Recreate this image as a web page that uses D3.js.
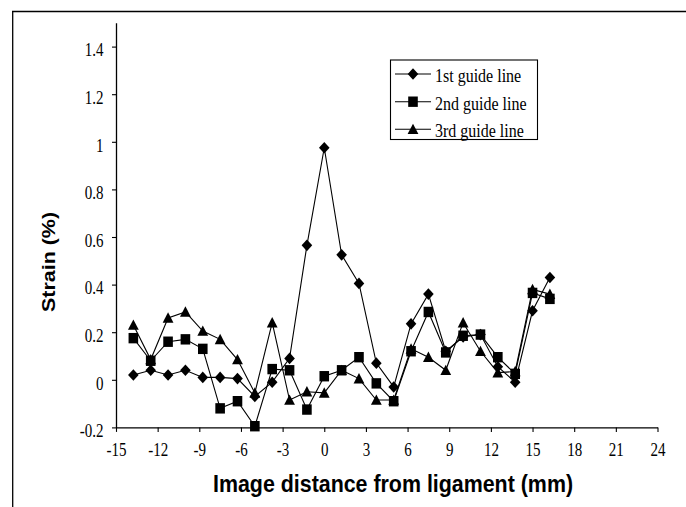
<!DOCTYPE html>
<html>
<head>
<meta charset="utf-8">
<script src="https://cdn.jsdelivr.net/npm/d3@7"></script>
<style>
  html, body { margin: 0; padding: 0; background: #fff; }
  svg { display: block; }
</style>
</head>
<body>
<div id="chart"></div>
<script>
// Strain measured along three guide lines vs. distance from the ligament
const distances = [-13.75, -12.5, -11.25, -10, -8.75, -7.5, -6.25, -5, -3.75, -2.5, -1.25, 0,
                   1.25, 2.5, 3.75, 5, 6.25, 7.5, 8.75, 10, 11.25, 12.5, 13.75, 15, 16.25];
const guide1 = [0.02, 0.04, 0.02, 0.04, 0.01, 0.01, 0.005, -0.07, -0.01, 0.09, 0.565, 0.975,
                0.525, 0.405, 0.07, -0.03, 0.235, 0.36, 0.12, 0.18, 0.19, 0.055, -0.01, 0.29, 0.43];
const guide2 = [0.175, 0.08, 0.16, 0.17, 0.13, -0.12, -0.09, -0.195, 0.045, 0.04, -0.125, 0.015,
                0.04, 0.095, -0.015, -0.09, 0.12, 0.285, 0.115, 0.185, 0.19, 0.095, 0.025, 0.365, 0.34];
const guide3 = [0.23, 0.085, 0.26, 0.285, 0.205, 0.17, 0.085, -0.055, 0.24, -0.085, -0.05, -0.055,
                0.04, 0.005, -0.085, -0.085, 0.13, 0.095, 0.04, 0.24, 0.12, 0.03, 0.035, 0.38, 0.36];
const seriesNames = ["1st guide line", "2nd guide line", "3rd guide line"];
const seriesSymbols = ["diamond", "square", "triangle"];
const xTicks = [-15, -12, -9, -6, -3, 0, 3, 6, 9, 12, 15, 18, 21, 24];
const yTicks = [-0.2, 0, 0.2, 0.4, 0.6, 0.8, 1, 1.2, 1.4];
const xTitle = "Image distance from ligament (mm)";
const yTitle = "Strain (%)";

const W = 686, H = 507;
const margin = { top: 22.8, right: 28.5, bottom: 79.6, left: 116 };
const serif = "'Liberation Serif', 'Times New Roman', serif";
const sans = "'Liberation Sans', Arial, sans-serif";

const svg = d3.select("#chart").append("svg")
  .attr("width", W).attr("height", H);

// scanned page frame (top and left edges)
svg.append("line").attr("x1", 12).attr("x2", W).attr("y1", 11.5).attr("y2", 11.5)
  .attr("stroke", "#000").attr("stroke-width", 1.3);
svg.append("line").attr("x1", 12.7).attr("x2", 12.7).attr("y1", 11).attr("y2", H)
  .attr("stroke", "#000").attr("stroke-width", 1.3);

const x = d3.scaleLinear().domain([-15, 24]).range([margin.left, W - margin.right]);
const y = d3.scaleLinear().domain([-0.2, 1.5]).range([H - margin.bottom, margin.top]);

// axes
const xAxis = svg.append("g")
  .attr("transform", `translate(0,${y(-0.2)})`)
  .call(d3.axisBottom(x).tickValues(xTicks).tickSize(4.5).tickSizeOuter(0).tickFormat(d3.format("d")));
const yAxis = svg.append("g")
  .attr("transform", `translate(${x(-15)},0)`)
  .call(d3.axisLeft(y).tickValues(yTicks).tickSize(4).tickSizeOuter(0).tickFormat(d => d3.format("")(+d.toFixed(1))));

[xAxis, yAxis].forEach(g => {
  g.select(".domain").attr("stroke", "#000").attr("stroke-width", 1.3);
  g.selectAll(".tick line").attr("stroke", "#000").attr("stroke-width", 1.1);
});

// tick labels: serif, slightly tall
xAxis.selectAll(".tick text")
  .attr("x", null).attr("y", null).attr("dy", null)
  .attr("transform", "translate(0,29) scale(1,1.28)")
  .attr("fill", "#000")
  .style("font-family", serif).style("font-size", "15px")
  .attr("text-anchor", "middle")
  .text(d => d < 0 ? "-" + Math.abs(d) : d);
yAxis.selectAll(".tick text")
  .attr("x", null).attr("y", null).attr("dy", null)
  .attr("transform", "translate(-12.5,9.3) scale(1,1.28)")
  .attr("fill", "#000")
  .style("font-family", serif).style("font-size", "15px")
  .attr("text-anchor", "end")
  .text(d => { const v = +d.toFixed(1); return v < 0 ? "-" + Math.abs(v) : String(v); });

// axis titles
svg.append("text")
  .attr("transform", "translate(393,492) scale(1,1.16)")
  .attr("text-anchor", "middle")
  .style("font-family", sans).style("font-weight", "bold").style("font-size", "21.4px")
  .text(xTitle);
svg.append("text")
  .attr("transform", "translate(54.5,262) rotate(-90) scale(1.16,1)")
  .attr("text-anchor", "middle")
  .style("font-family", sans).style("font-weight", "bold").style("font-size", "18.5px")
  .text(yTitle);

// marker shapes
function markerPath(kind) {
  if (kind === "diamond") return "M0,-5.8L5.3,0L0,5.8L-5.3,0Z";
  if (kind === "square") return "M-4.8,-5.2H4.8V5.2H-4.8Z";
  return "M0,-5.6L5.4,4.8H-5.4Z";
}

const series = [guide1, guide2, guide3];
const line = d3.line().x((d, i) => x(distances[i])).y(d => y(d));

const plot = svg.append("g");
series.forEach((vals, k) => {
  plot.append("path")
    .attr("d", line(vals))
    .attr("fill", "none").attr("stroke", "#000").attr("stroke-width", 1.1);
});
series.forEach((vals, k) => {
  plot.append("g").selectAll("path")
    .data(vals)
    .join("path")
    .attr("transform", (d, i) => `translate(${x(distances[i])},${y(d)})`)
    .attr("d", markerPath(seriesSymbols[k]))
    .attr("fill", "#000");
});

// legend
const legend = svg.append("g");
legend.append("rect")
  .attr("x", 390.5).attr("y", 60).attr("width", 147).attr("height", 79.5)
  .attr("fill", "#fff").attr("stroke", "#000").attr("stroke-width", 1.1);
const rowY = [74, 101.7, 129.3];
seriesNames.forEach((name, k) => {
  legend.append("line")
    .attr("x1", 395).attr("x2", 431).attr("y1", rowY[k]).attr("y2", rowY[k])
    .attr("stroke", "#000").attr("stroke-width", 1.1);
  legend.append("path")
    .attr("transform", `translate(413,${rowY[k]})`)
    .attr("d", markerPath(seriesSymbols[k]))
    .attr("fill", "#000");
  legend.append("text")
    .attr("transform", `translate(435,${rowY[k] + 7.8}) scale(1,1.13)`)
    .style("font-family", serif).style("font-size", "16px")
    .text(name);
});
</script>
</body>
</html>
